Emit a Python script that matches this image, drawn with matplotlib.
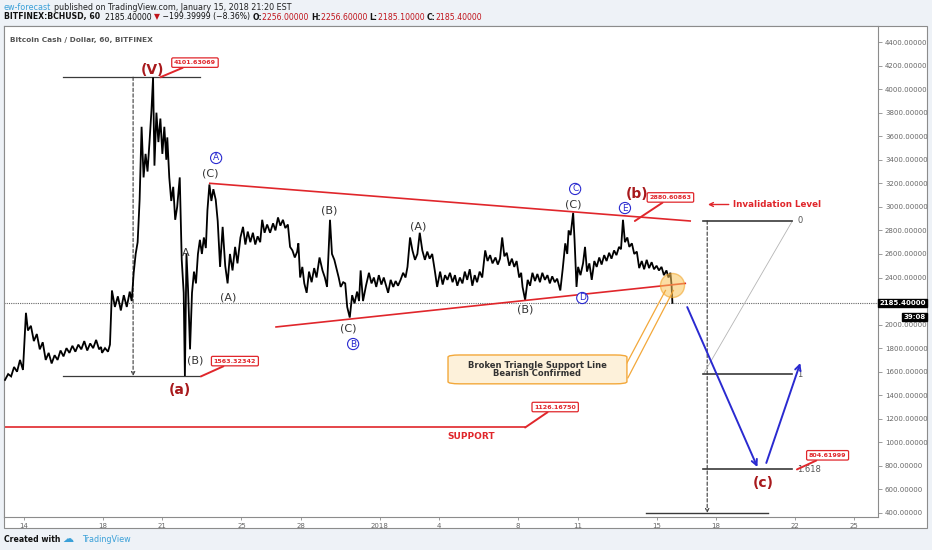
import matplotlib
matplotlib.use("Agg")
import matplotlib.pyplot as plt
from matplotlib.patches import Rectangle, FancyBboxPatch
from matplotlib.transforms import blended_transform_factory

# ---------------- data ----------------
# time in days since 2017-12-14 00:00, BCH/USD price
t_days = [-0.96, -0.8, -0.65, -0.5, -0.35, -0.2, -0.05,
          0.1, 0.2, 0.35, 0.5, 0.65, 0.8, 0.95,
          1.1, 1.25, 1.4, 1.55, 1.7, 1.85,
          2.0, 2.15, 2.3, 2.45, 2.6, 2.75, 2.9,
          3.05, 3.2, 3.35, 3.5, 3.65, 3.8, 3.9,
          3.95, 4.1, 4.25, 4.35, 4.45, 4.6, 4.75, 4.9,
          5.05, 5.2, 5.35, 5.45, 5.55, 5.65, 5.75, 5.85,
          5.95, 6.05, 6.15, 6.25, 6.35, 6.45, 6.53, 6.6, 6.7,
          6.8, 6.9, 7.0, 7.1, 7.2, 7.25, 7.35, 7.45, 7.55, 7.65, 7.75, 7.88,
          7.98, 8.08, 8.14, 8.22, 8.3, 8.4, 8.5, 8.6, 8.7, 8.8, 8.9,
          9.0, 9.1, 9.2, 9.28, 9.38, 9.48, 9.58, 9.7, 9.8, 9.92,
          10.05, 10.18, 10.3, 10.42, 10.55, 10.68, 10.8, 10.95,
          11.08, 11.2, 11.32, 11.45, 11.58, 11.7, 11.82, 11.95,
          12.05, 12.17, 12.3, 12.45, 12.6, 12.72, 12.85,
          12.97, 13.1, 13.22, 13.35, 13.46, 13.58, 13.7, 13.82, 13.88, 13.97,
          14.08, 14.18, 14.3, 14.42, 14.55, 14.68, 14.8, 14.95,
          15.1, 15.22, 15.33, 15.48, 15.58, 15.7, 15.8, 15.92,
          16.02, 16.15, 16.25, 16.35, 16.48, 16.6, 16.72, 16.85,
          16.95, 17.03, 17.15, 17.3, 17.45, 17.58, 17.7, 17.82, 17.95,
          18.08, 18.2, 18.32, 18.42, 18.55, 18.68, 18.8, 18.92,
          19.05, 19.18, 19.3, 19.4, 19.53, 19.65, 19.78, 19.9, 20.02,
          20.15, 20.28, 20.4, 20.52, 20.65, 20.78, 20.9,
          21.05, 21.18, 21.3, 21.42, 21.55, 21.68, 21.8, 21.92,
          22.05, 22.18, 22.3, 22.42, 22.55, 22.68, 22.8, 22.92,
          23.05, 23.18, 23.33, 23.45, 23.58, 23.7, 23.85, 23.97,
          24.08, 24.19, 24.3, 24.42, 24.55, 24.68, 24.8, 24.92,
          25.05, 25.15, 25.22, 25.35, 25.48, 25.6, 25.72, 25.85, 25.97,
          26.1, 26.22, 26.35, 26.48, 26.6, 26.72, 26.85, 26.97,
          27.13, 27.25, 27.38, 27.48, 27.55, 27.65, 27.78, 27.85, 27.95,
          28.03, 28.15, 28.28, 28.38, 28.48, 28.6, 28.72, 28.85,
          28.97, 29.1, 29.22, 29.35, 29.47, 29.6, 29.72, 29.85, 29.97,
          30.1, 30.2, 30.3, 30.4, 30.52, 30.62, 30.75, 30.87,
          31.0, 31.12, 31.25, 31.37, 31.5, 31.62, 31.75, 31.87,
          32.0, 32.12, 32.25, 32.37, 32.5, 32.6, 32.7, 32.76, 32.8]
price = [1530, 1580, 1560, 1640, 1600, 1700, 1615,
         2100, 1950, 1990, 1860, 1920, 1790, 1850,
         1700, 1760, 1670, 1740, 1700, 1780,
         1730, 1800, 1760, 1820, 1770, 1830, 1790,
         1860, 1780, 1840, 1800, 1870, 1790, 1810,
         1760, 1800, 1770, 1830, 2290, 2150, 2240, 2120,
         2250, 2150, 2280, 2200, 2440, 2600, 2700, 3060,
         3680, 3250, 3450, 3300, 3550, 3820, 4100, 3350, 3800,
         3550, 3750, 3450, 3680, 3400, 3590, 3250, 3050, 3170, 2890, 3000, 3250,
         2550, 2270, 1563, 2600, 2300, 1790, 2270, 2450, 2350, 2600, 2720,
         2600, 2740, 2650, 2970, 3190, 3050, 3150, 3060, 2880, 2490,
         2830, 2500, 2350, 2600, 2460, 2660, 2520, 2740,
         2830, 2680, 2790, 2700, 2780, 2680, 2750, 2700,
         2890, 2780, 2850, 2780, 2860, 2800, 2910,
         2840, 2890, 2820, 2850, 2660, 2630, 2570, 2620, 2690, 2400,
         2490, 2350, 2270, 2450, 2360, 2480, 2400, 2570,
         2460, 2400, 2320, 2890, 2600, 2550, 2480, 2400,
         2320, 2360, 2350, 2150, 2060, 2250, 2180, 2280,
         2200, 2460, 2200, 2330, 2440, 2350, 2400, 2320, 2420,
         2340, 2400, 2330, 2270, 2380, 2320, 2370, 2330,
         2380, 2440, 2400, 2490, 2740, 2630, 2550, 2600, 2780,
         2630, 2550, 2620, 2560, 2600, 2460, 2320,
         2450, 2340, 2420, 2380, 2440, 2360, 2420, 2330,
         2400, 2350, 2450, 2380, 2470, 2330, 2420, 2360,
         2450, 2400, 2630, 2540, 2590, 2520, 2570, 2510,
         2560, 2740, 2580, 2610, 2500, 2560, 2490, 2540,
         2400, 2440, 2320, 2210, 2380, 2330, 2440, 2370, 2430,
         2360, 2440, 2380, 2420, 2350, 2410, 2360, 2390,
         2290, 2470, 2690, 2600, 2800, 2760, 2950, 2720, 2320,
         2490, 2420, 2520, 2660, 2450, 2520, 2380, 2540,
         2490, 2570, 2510, 2590, 2540, 2610, 2560, 2630, 2590,
         2660, 2640, 2890, 2700, 2740, 2660, 2690, 2600,
         2620, 2480, 2540, 2470, 2550, 2480, 2530, 2470,
         2500, 2460, 2490, 2420, 2460, 2400, 2440, 2330, 2185]

last_price = 2185.40000
countdown = "39:08"
# the 2200 level is hidden behind the last-price tag on the price scale
y_ticks = [400, 600, 800, 1000, 1200, 1400, 1600, 1800, 2000,
           2400, 2600, 2800, 3000, 3200, 3400, 3600, 3800, 4000, 4200, 4400]
x_tick_days = [0, 4, 7, 11, 14, 18, 21, 25, 28, 32, 35, 39, 42]
x_tick_labels = ["14", "18", "21", "25", "28", "2018", "4", "8", "11", "15", "18", "22", "25"]

# drawings
tri_upper = ([9.4, 33.7], [3200, 2880])
tri_lower = ([12.75, 33.45], [1980, 2350])
range_left = {"top": 4101.63069, "bottom": 1563.32342, "x0": 1.97, "x1": 8.9, "xv": 5.52}
support_level = 1126.16750
support_end = 25.35
invalidation = 2880.60863
fib_levels = [2880.6, 1577.0, 771.0]
fib_labels = ["0", "1", "1.618"]
fib_x = (34.36, 38.87)
range_right = {"top": 2880.6, "bottom": 400.0, "x0": 31.48, "x1": 37.65, "xv": 34.56}
target_label = 804.61999
arrow_down = ((33.55, 2149), (37.1, 790))
arrow_up = ((37.55, 825), (39.27, 1674))
break_point = (32.79, 2336)

# ---------------- figure ----------------
W, H = 932, 550
fig = plt.figure(figsize=(W / 100, H / 100), dpi=100)
fig.patch.set_facecolor("#eef2f7")
plt.rcParams['font.family'] = ['DejaVu Sans']

def fx(x):
    return x / W

def fy(y):
    return 1 - y / H

# outer white chart box
fig.patches.append(Rectangle((fx(4), fy(528)), fx(927) - fx(4), fy(26) - fy(528),
                             transform=fig.transFigure, facecolor="white",
                             edgecolor="#8c8c8c", lw=0.8, zorder=-10))

ax = fig.add_axes([fx(4), fy(517), fx(878) - fx(4), fy(26) - fy(517)])
ax.set_zorder(2)
ax.set_facecolor("white")
X0, X1 = -1.01, 43.2
Y0, Y1 = 366, 4536
ax.set_xlim(X0, X1)
ax.set_ylim(Y0, Y1)
for s in ax.spines.values():
    s.set_color("#8c8c8c")
    s.set_linewidth(0.8)

ax.yaxis.tick_right()
ax.set_yticks(y_ticks)
ax.set_yticklabels([f"{v:.5f}" for v in y_ticks])
ax.tick_params(axis="y", direction="out", length=3, width=0.6, color="#8c8c8c",
               labelsize=5, labelcolor="#666666", pad=2)
ax.set_xticks(x_tick_days)
ax.set_xticklabels(x_tick_labels)
ax.tick_params(axis="x", direction="out", length=2.5, width=0.6, color="#8c8c8c",
               labelsize=5, labelcolor="#666666", pad=1.5)

# price path
ax.plot(t_days, price, color="black", lw=1.3, zorder=3, solid_joinstyle="miter")

# current price dotted line
ax.axhline(last_price, color="#666666", lw=0.8, ls=(0, (1, 1)), zorder=2)
btr = blended_transform_factory(ax.transAxes, ax.transData)
ax.text(1.002, last_price, f"{last_price:.5f}", transform=btr, ha="left", va="center",
        fontsize=5, color="white", fontweight="bold",
        bbox=dict(boxstyle="square,pad=0.18", fc="black", ec="black"), clip_on=False)
ax.text(1.0545, last_price - 122, countdown, transform=btr, ha="right", va="center",
        fontsize=5, color="white", fontweight="bold",
        bbox=dict(boxstyle="square,pad=0.18", fc="black", ec="black"), clip_on=False)

RED = "#e0262b"
DARKRED = "#a8191c"
BLUE = "#2a2ad0"
GRAY = "#3a3a3a"

# triangle
ax.plot(*tri_upper, color=RED, lw=1.2, zorder=4)
ax.plot(*tri_lower, color=RED, lw=1.2, zorder=4)

# left price range tool
ax.plot([range_left["x0"], range_left["x1"]], [range_left["top"]] * 2, color=GRAY, lw=0.9, zorder=2)
ax.plot([range_left["x0"], range_left["x1"]], [range_left["bottom"]] * 2, color=GRAY, lw=0.9, zorder=2)
ax.annotate("", xy=(range_left["xv"], range_left["bottom"]), xytext=(range_left["xv"], range_left["top"]),
            arrowprops=dict(arrowstyle="->", color=GRAY, lw=0.8, ls=(0, (3, 2)),
                            mutation_scale=6, shrinkA=0, shrinkB=0), zorder=2)

# support
ax.plot([X0, support_end], [support_level] * 2, color=RED, lw=1.2, zorder=2)
ax.text(22.6, support_level - 75, "SUPPORT", color=RED, fontsize=6.5, fontweight="bold",
        ha="center", va="center")

# right range / fib
ax.annotate("", xy=(range_right["xv"], range_right["bottom"]), xytext=(range_right["xv"], range_right["top"]),
            arrowprops=dict(arrowstyle="->", color=GRAY, lw=0.8, ls=(0, (3, 2)),
                            mutation_scale=6, shrinkA=0, shrinkB=0), zorder=2)
ax.plot([range_right["x0"], range_right["x1"]], [range_right["bottom"]] * 2, color=GRAY, lw=1.0, zorder=2)
for lv, lb in zip(fib_levels, fib_labels):
    ax.plot(fib_x, [lv, lv], color=GRAY, lw=1.2, zorder=3)
    ax.text(fib_x[1] + 0.25, lv, lb, fontsize=6, color="#555555", ha="left", va="center")
ax.plot([fib_x[0], fib_x[1]], [fib_levels[1], fib_levels[0]], color="#b5b5b5", lw=0.6, zorder=2)

# blue arrows
for (a, b) in (arrow_down, arrow_up):
    ax.annotate("", xy=b, xytext=a,
                arrowprops=dict(arrowstyle="->", color=BLUE, lw=1.4, mutation_scale=10,
                                shrinkA=0, shrinkB=0), zorder=5)

# invalidation label
ax.annotate("", xy=(34.6, 3020), xytext=(35.65, 3020),
            arrowprops=dict(arrowstyle="->", color=RED, lw=1.0, mutation_scale=7, shrinkA=0, shrinkB=0))
ax.text(35.85, 3020, "Invalidation Level", color=RED, fontsize=6.3, fontweight="bold",
        ha="left", va="center")

# price callouts
def callout(txt, cx, cy, tx, ty):
    ax.annotate(txt, xy=(tx, ty), xytext=(cx, cy), fontsize=4.6, color=RED, fontweight="bold",
                ha="center", va="center", zorder=7,
                bbox=dict(boxstyle="round,pad=0.35,rounding_size=0.2", fc="white", ec=RED, lw=0.9),
                arrowprops=dict(arrowstyle="-", color=RED, lw=1.4, shrinkA=0, shrinkB=0))

callout(f"{range_left['top']:.5f}", 8.65, 4225, 6.9, 4101)
callout(f"{range_left['bottom']:.5f}", 10.67, 1690, 8.95, 1560)
callout(f"{support_level:.5f}", 26.87, 1300, 25.35, 1126)
callout(f"{invalidation:.5f}", 32.7, 3080, 30.9, 2880)
callout(f"{target_label:.5f}", 40.65, 890, 39.1, 770)

# wave labels
def wl(txt, d, p, size=8, color="#333333", weight="normal"):
    ax.text(d, p, txt, fontsize=size, color=color, fontweight=weight, ha="center", va="center", zorder=6)

def cl(txt, d, p):
    ax.text(d, p, txt, fontsize=6.5, color=BLUE, ha="center", va="center", zorder=6,
            bbox=dict(boxstyle="circle,pad=0.12", fc="white", ec=BLUE, lw=0.8))

wl("(V)", 6.48, 4162, 10, DARKRED, "bold")
wl("(a)", 7.89, 1444, 10, DARKRED, "bold")
wl("(b)", 31.0, 3109, 10, DARKRED, "bold")
wl("(c)", 37.4, 655, 10, DARKRED, "bold")
wl("(C)", 9.41, 3287)
wl("A", 8.2, 2608)
wl("(B)", 8.65, 1699)
wl("(A)", 10.32, 2234)
wl("(B)", 15.44, 2973)
wl("(C)", 16.4, 1971)
wl("(A)", 19.94, 2837)
wl("(B)", 25.35, 2132)
wl("(C)", 27.78, 3016)
cl("A", 9.72, 3415)
cl("B", 16.65, 1835)
cl("C", 27.88, 3152)
cl("D", 28.24, 2226)
cl("E", 30.4, 2990)

# broken support circle and note
ax.scatter([break_point[0]], [break_point[1]], s=300, facecolor="#f9c35a", alpha=0.55,
           edgecolor="#f0a020", lw=1.0, zorder=6)
ax.plot([30.1, 32.45], [1548, 2290], color="#f3a83a", lw=0.9, zorder=6)
ax.plot([30.55, 32.85], [1548, 2290], color="#f3a83a", lw=0.9, zorder=6)
box = FancyBboxPatch((21.45, 1497), 9.05, 245, boxstyle="round,pad=0,rounding_size=0.6",
                     mutation_aspect=30, fc="#fdf1da", ec="#f3a83a", lw=1.0, zorder=7)
ax.add_patch(box)
ax.text(25.97, 1620, "Broken Triangle Support Line\nBearish Confirmed", fontsize=6,
        fontweight="bold", color="#333333", ha="center", va="center", linespacing=0.95, zorder=8)

# instrument title
ax.text(0.007, 0.978, "Bitcoin Cash / Dollar, 60, BITFINEX", transform=ax.transAxes,
        fontsize=5.3, color="#555555", fontweight="bold", ha="left", va="top")

# ---------------- header / footer ----------------
renderer = fig.canvas.get_renderer()

def chain(pieces, x, y, size):
    for s, color, weight in pieces:
        t = fig.text(x, y, s, color=color, fontsize=size, fontweight=weight,
                     ha="left", va="center", transform=None)
        bb = t.get_window_extent(renderer)
        x = bb.x1

chain([("ew-forecast", "#3aa0d8", "normal"),
       ("published on TradingView.com, January 15, 2018 21:20 EST", "#222222", "normal")],
      4, H - 7, 5.8)
fig.texts[-1].set_x(fig.texts[-1].get_position()[0] + 2.5)
chain([("BITFINEX:BCHUSD, 60", "#111111", "bold"),
       ("  2185.40000 ", "#111111", "normal"),
       ("▼", "#c0141b", "normal"),
       (" \u2212199.39999 (\u22128.36%) ", "#111111", "normal"),
       ("O:", "#111111", "bold"), ("2256.00000 ", "#c0141b", "normal"),
       ("H:", "#111111", "bold"), ("2256.60000 ", "#c0141b", "normal"),
       ("L:", "#111111", "bold"), ("2185.10000 ", "#c0141b", "normal"),
       ("C:", "#111111", "bold"), ("2185.40000", "#c0141b", "normal")],
      4, H - 17, 5.6)

fig.text(fx(4), fy(539), "Created with", fontsize=5.6, color="#111111", fontweight="bold",
         ha="left", va="center")
fig.text(fx(62), fy(539), "\u2601", fontsize=8, color="#3aa0d8", ha="left", va="center")
fig.text(fx(82), fy(539), "TradingView", fontsize=5.8, color="#3aa0d8", ha="left", va="center")

fig.savefig("out.png", dpi=100, facecolor=fig.get_facecolor())
